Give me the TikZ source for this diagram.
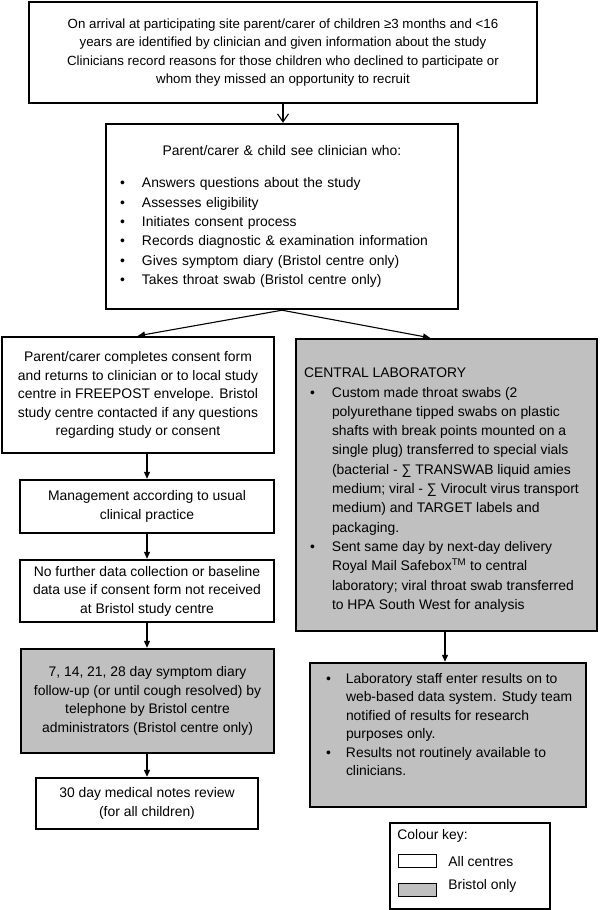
\documentclass[tikz,border=0pt]{standalone}
\usepackage{fontspec}
\setmainfont{Liberation Sans}
\usetikzlibrary{arrows.meta, positioning}

\definecolor{keygrey}{RGB}{192,192,192}
\newcommand{\boxfont}{\fontsize{13.9}{18.5}\selectfont}
\newcommand{\topfont}{\fontsize{13.3}{18.4}\selectfont}
\newcommand{\listfont}{\fontsize{13.9}{19.3}\selectfont}
\newcommand{\bitem}[1][22pt]{\makebox[#1][l]{\textbullet}}
\newcommand{\bcont}[1][22pt]{\hspace*{#1}}

\tikzset{
	box/.style={draw, line width=2.4pt, inner sep=0pt, align=center, font=\boxfont},
	greybox/.style={box, fill=keygrey},
	boxtext/.style={inner sep=0pt, align=left, anchor=north west},
	swatch/.style={draw, line width=1pt, minimum width=38pt, minimum height=13pt, inner sep=0pt},
	arr/.style={line width=1.1pt, -{Triangle[length=7pt,width=6pt]}},
	openarr/.style={line width=1.1pt, -{Straight Barb[length=8pt,width=11pt]}}
}

\begin{document}
\begin{tikzpicture}[x=1pt, y=-1pt]
	\useasboundingbox (0,0) rectangle (600,910);
	% NOTE: y runs downwards, one unit is one pixel of the page.
	\node[box, font=\topfont, minimum width=508pt, minimum height=101pt] (top) at (283,52.5)
		{On arrival at participating site parent/carer of children ≥3 months and <16\\
		years are identified by clinician and given information about the study\\
		Clinicians record reasons for those children who declined to participate or\\
		whom they missed an opportunity to recruit};
	\node[box, minimum width=352pt, minimum height=185pt, text width=324pt,
		align=left, font=\listfont] (clin) at (282,216.5)
		{\makebox[324pt][c]{Parent/carer \& child see clinician who:}\\[12.8pt]
		\bitem Answers questions about the study\\
		\bitem Assesses eligibility\\
		\bitem Initiates consent process\\
		\bitem Records diagnostic \& examination information\\
		\bitem Gives symptom diary (Bristol centre only)\\
		\bitem Takes throat swab (Bristol centre only)};

	% left column
	\node[box, minimum width=272pt, minimum height=116pt] (consent) at (138,395)
		{Parent/carer completes consent form\\
		and returns to clinician or to local study\\
		centre in FREEPOST envelope. Bristol\\
		study centre contacted if any questions\\
		regarding study or consent};
	\node[box, minimum width=254pt, minimum height=53pt] (mgmt) at (147,506.5)
		{Management according to usual\\ clinical practice};
	\node[box, minimum width=254pt, minimum height=62pt] (nodata) at (147,591)
		{No further data collection or baseline\\
		data use if consent form not received\\
		at Bristol study centre};
	\node[greybox, minimum width=253pt, minimum height=104pt] (diary) at (147.5,701)
		{7, 14, 21, 28 day symptom diary\\
		follow-up (or until cough resolved) by\\
		telephone by Bristol centre\\
		administrators (Bristol centre only)};
	\node[box, minimum width=222pt, minimum height=51pt] (notes) at (147,803.5)
		{30 day medical notes review\\ (for all children)};

	% right column
	\node[greybox, minimum width=301pt, minimum height=292pt] (lab) at (446.5,485) {};
	\node[boxtext, font=\listfont] (labtext) at ([shift={(9pt,-30pt)}]lab.north west)
		{CENTRAL LABORATORY\\
		\bcont[6pt]\bitem Custom made throat swabs (2\\
		\bcont[28pt]polyurethane tipped swabs on plastic\\
		\bcont[28pt]shafts with break points mounted on a\\
		\bcont[28pt]single plug) transferred to special vials\\
		\bcont[28pt](bacterial - ∑ TRANSWAB liquid amies\\
		\bcont[28pt]medium; viral - ∑ Virocult virus transport\\
		\bcont[28pt]medium) and TARGET labels and\\
		\bcont[28pt]packaging.\\
		\bcont[6pt]\bitem Sent same day by next-day delivery\\
		\bcont[28pt]Royal Mail Safebox\textsuperscript{TM} to central\\
		\bcont[28pt]laboratory; viral throat swab transferred\\
		\bcont[28pt]to HPA South West for analysis};
	\node[greybox, minimum width=276pt, minimum height=144pt] (results) at (448,735) {};
	\node[boxtext, font=\boxfont] (restext) at ([shift={(17pt,-11pt)}]results.north west)
		{\bitem[20pt]Laboratory staff enter results on to\\
		\bcont[20pt]web-based data system. Study team\\
		\bcont[20pt]notified of results for research\\
		\bcont[20pt]purposes only.\\
		\bitem[20pt]Results not routinely available to\\
		\bcont[20pt]clinicians.};

	% colour key
	\node[draw, line width=1.5pt, minimum width=160pt, minimum height=86pt] (key) at (470,866) {};
	\node[anchor=west, inner sep=0pt, font=\boxfont] (keytitle)
		at ([shift={(8pt,-14pt)}]key.north west) {Colour key:};
	\node[swatch, anchor=north west] (keyall) at ([shift={(9pt,-32pt)}]key.north west) {};
	\node[swatch, fill=keygrey, below=15pt of keyall] (keybri) {};
	\node[anchor=west, inner sep=0pt, font=\boxfont, right=11pt of keyall] (keyalltext) {All centres};
	\node[anchor=west, inner sep=0pt, font=\boxfont, right=11pt of keybri, yshift=4pt] (keybritext) {Bristol only};

	% connectors
	\draw[openarr] (top.south) -- (top.south |- clin.north);
	\draw[arr] (clin.south) -- (consent.north);
	\draw[arr] (clin.south) -- ([xshift=-16.5pt]lab.north);
	\draw[arr] (mgmt.north |- consent.south) -- (mgmt.north);
	\draw[arr] (mgmt) -- (nodata);
	\draw[arr] (nodata.south) -- (nodata.south |- diary.north);
	\draw[arr] (notes.north |- diary.south) -- (notes.north);
	\draw[arr] ([xshift=-3pt]results.north |- lab.south) -- ([xshift=-3pt]results.north);
\end{tikzpicture}
\end{document}
